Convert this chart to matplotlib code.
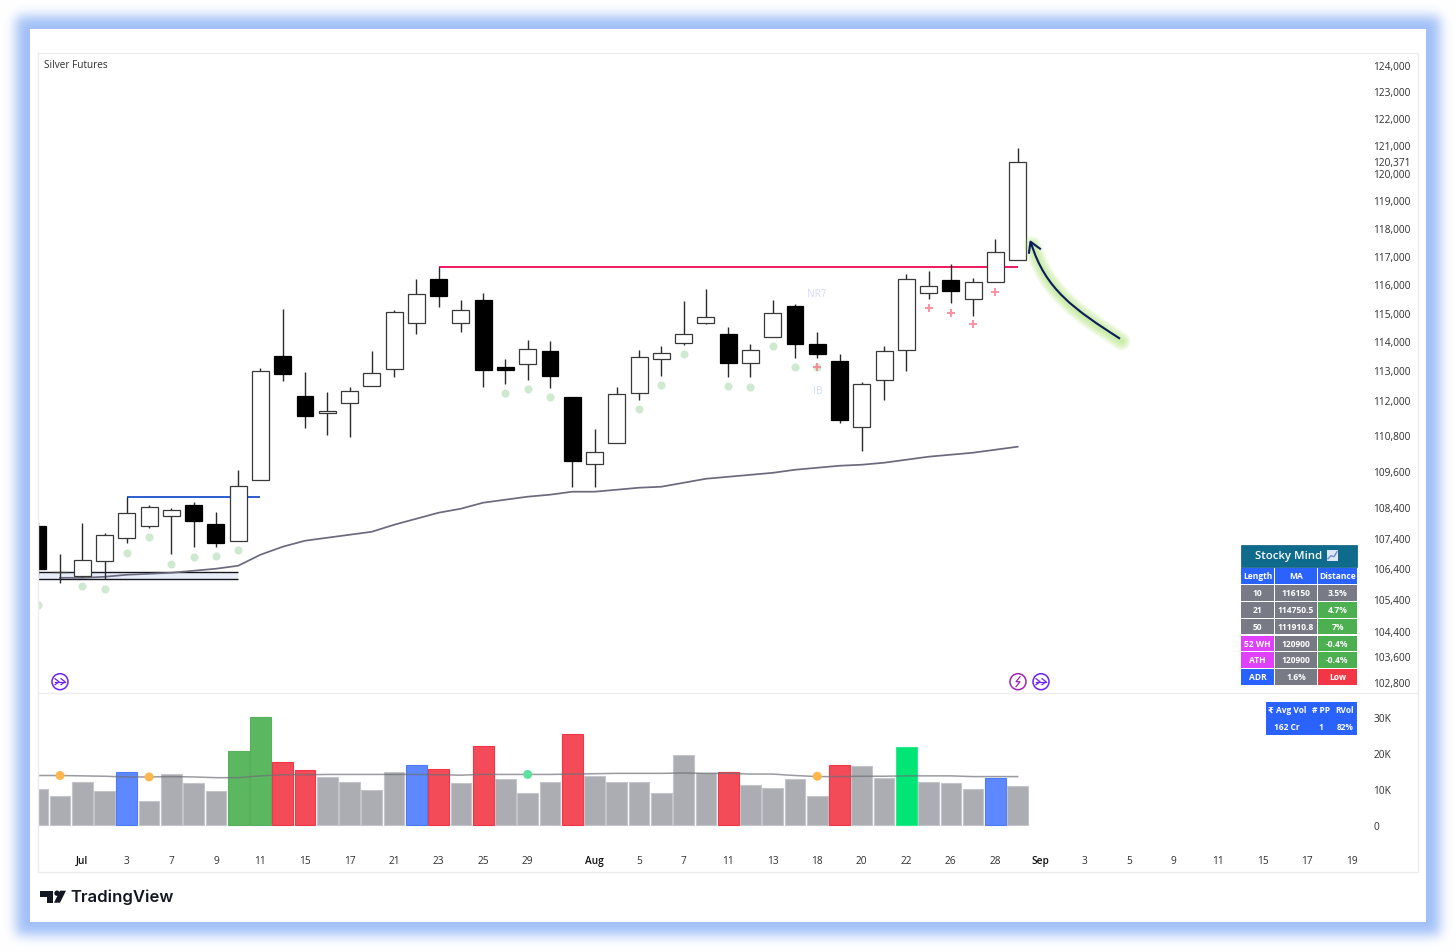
"""Silver Futures daily candles with volume pane, TradingView style."""
import matplotlib
import matplotlib.pyplot as plt
import numpy as np
from matplotlib.patches import Circle, PathPatch, Polygon, Rectangle
from matplotlib.path import Path

matplotlib.use("Agg")

W, H = 1456, 953
SHIFT = 0.7  # sub-pixel nudge down so edges land on the same rows as the screenshot
plt.rcParams["font.family"] = ["Open Sans", "DejaVu Sans"]

# index 0 is the bar before 1 Jul, -1 is cut by the left edge of the pane
BAR_INDEX = list(range(-1, 44))

OPENS = [107785, 106289, 106159, 106647, 107394, 107785, 108115, 108478, 107851, 107296,
         109303, 113502, 112132, 111554, 111894, 112472, 113053, 114620, 116186, 114650,
         115451, 113122, 113226, 113675, 112098, 109837, 110540, 112234, 113399, 113952,
         114620, 114264, 113260, 114160, 115241, 113918, 113329, 111078, 112676, 113710,
         115696, 116151, 115486, 116081, 116863]
CLOSES = [106386, 106295, 106679, 107491, 108214, 108412, 108313, 107950, 107232, 109105,
          112984, 112880, 111452, 111622, 112302, 112914, 115031, 115661, 115591, 115101,
          113018, 113018, 113745, 112812, 109938, 110239, 112200, 113468, 113606, 114264,
          114856, 113260, 113710, 114996, 113918, 113572, 111316, 112540, 113675, 116186,
          115941, 115766, 116081, 117148, 120371]
HIGHS = [107900, 106874, 107884, 107556, 108742, 108478, 108379, 108577, 108247, 109636,
         113087, 115136, 112949, 112268, 112438, 113675, 115101, 116186, 116606, 115451,
         115696, 113399, 114056, 114021, 112098, 111010, 112438, 113710, 113848, 115416,
         115836, 114506, 113918, 115451, 115311, 114333, 113572, 112608, 113848, 116365,
         116471, 116721, 116221, 117611, 120911]
LOWS = [106200, 105932, 106127, 106062, 107232, 107719, 106874, 107101, 107101, 107296,
        109303, 112642, 111044, 110809, 110741, 112472, 112778, 114264, 115206, 114333,
        112438, 112540, 112676, 112404, 109072, 109072, 110540, 111996, 112812, 113883,
        114586, 112778, 112778, 114160, 113433, 113433, 111214, 110273, 111996, 112984,
        115486, 115346, 114891, 116081, 116863]

MA_INDEX = list(range(0, 44))
MA_VALUES = [106094, 106094, 106127, 106192, 106224, 106257, 106322, 106387, 106484, 106841,
             107101, 107296, 107394, 107491, 107589, 107818, 108016, 108214, 108346, 108544,
             108643, 108742, 108808, 108907, 108907, 108973, 109039, 109072, 109204, 109336,
             109402, 109468, 109534, 109636, 109703, 109770, 109804, 109871, 109971, 110072,
             110139, 110206, 110306, 110407]

DOT_INDEX = [-1, 1, 2, 3, 4, 5, 6, 7, 8, 20, 21, 22, 26, 27, 28, 30, 31, 32, 33, 34]
DOT_VALUES = [105230, 105834, 105737, 106906, 107426, 106549, 106776, 106809, 107004, 112234,
              112370, 112098, 111690, 112506, 113572, 112472, 112438, 113848, 113122, 113122]
PLUS_INDEX = [34, 39, 40, 41, 42]
PLUS_VALUES = [113122, 115171, 114996, 114586, 115731]

RED_LEVEL = 116610
BLUE_LEVEL = 108742
BAND_TOP = 106289
BAND_BOTTOM = 106062

PRICE_TICKS = [124000, 123000, 122000, 121000, 120000, 119000, 118000, 117000, 116000, 115000,
               114000, 113000, 112000, 110800, 109600, 108400, 107400, 106400, 105400, 104400,
               103600, 102800]
LAST_PRICE = 120371

VOLUMES = [10.0, 8.0, 12.1, 9.6, 14.7, 6.6, 14.1, 11.6, 9.4, 20.7, 30.1, 17.5, 15.2, 13.5, 11.9,
           9.9, 14.7, 16.6, 15.5, 11.6, 21.9, 12.7, 8.9, 12.1, 25.2, 13.8, 11.9, 12.1, 8.9, 19.6,
           14.6, 14.7, 11.1, 10.2, 12.9, 8.1, 16.8, 16.5, 13.2, 21.7, 12.0, 11.6, 10.0, 13.2, 10.9]
VOLUME_KIND = list("gggg" "b" "ggggGG" "rr" "gggg" "b" "r" "g" "r" "ggg" "r" "ggggg"
                   "g" "r" "gggg" "r" "gg" "n" "ggg" "b" "g")
VOLUME_MA = [13.8, 13.8, 13.7, 13.6, 13.4, 13.4, 13.5, 13.4, 13.2, 13.2, 13.7, 14.0, 14.0, 14.1, 14.1,
             14.1, 14.1, 14.1, 14.0, 13.9, 14.1, 14.1, 14.1, 14.1, 14.2, 14.3, 14.4, 14.4, 14.4, 14.5,
             14.4, 14.4, 14.2, 14.2, 13.8, 13.5, 13.5, 13.6, 13.6, 13.7, 13.7, 13.7, 13.5, 13.5, 13.5]
VOL_DOT_INDEX = [0, 4, 21, 34]
VOL_DOT_VALUES = [13.8, 13.4, 14.1, 13.6]
VOL_DOT_COLORS = ["#ffb74d", "#ffb74d", "#5fe0a0", "#ffb74d"]
VOL_TICKS = [0, 10, 20, 30]
VOL_LABELS = ["0", "10K", "20K", "30K"]

DATE_INDEX = [1, 3, 5, 7, 9, 11, 13, 15, 17, 19, 21, 24, 26, 28, 30, 32, 34, 36, 38, 40, 42, 44,
              46, 48, 50, 52, 54, 56, 58]
DATE_LABELS = ["Jul", "3", "7", "9", "11", "15", "17", "21", "23", "25", "29", "Aug", "5", "7", "11",
               "13", "18", "20", "22", "26", "28", "Sep", "3", "5", "9", "11", "15", "17", "19"]

TABLE_ROWS = [
    ["Length", "MA", "Distance"],
    ["10", "116150", "3.5%"],
    ["21", "114750.5", "4.7%"],
    ["50", "111910.8", "7%"],
    ["52 WH", "120900", "-0.4%"],
    ["ATH", "120900", "-0.4%"],
    ["ADR", "1.6%", "Low"],
]
GREY, GREEN, MAGENTA, BLUE, RED = "#787b86", "#4caf50", "#e040fb", "#2962ff", "#f23645"
TABLE_COLORS = [
    [BLUE, BLUE, BLUE],
    [GREY, GREY, GREY],
    [GREY, GREY, GREEN],
    [GREY, GREY, GREEN],
    [MAGENTA, GREY, GREEN],
    [MAGENTA, GREY, GREEN],
    [BLUE, GREY, RED],
]
VOL_TABLE = [["₹ Avg Vol", "# PP", "RVol"], ["162 Cr", "1", "82%"]]

BAR_COLORS = {"g": "#acadb2", "b": "#5d88ff", "r": "#f44b58", "G": "#5cb860", "n": "#00e676"}
BAR_EDGES = {"g": "#c4c5c9", "b": "#4d7cfa", "r": "#f23645", "G": "#58b05c", "n": "#2bea8c"}


def axes_px(fig, left, top, right, bottom):
    return fig.add_axes([left / W, 1 - bottom / H, (right - left) / W, (bottom - top) / H])


def edge_profile(n, start, stop, sigma):
    raw = np.zeros(n)
    raw[start:stop] = 1.0
    xs = np.arange(-3 * sigma, 3 * sigma + 1)
    kernel = np.exp(-0.5 * (xs / sigma) ** 2)
    return np.convolve(raw, kernel / kernel.sum(), mode="same")


def draw_background(fig):
    ax = fig.add_axes([0, 0, 1, 1], zorder=0)
    glow = np.outer(edge_profile(H, 17, 936, 6.0), edge_profile(W, 16, 1440, 6.0))
    blue = np.array([0.63, 0.75, 0.97])
    img = 1 - glow[..., None] * (1 - blue)
    ax.imshow(img, extent=(0, W, H, 0), aspect="auto", interpolation="bilinear")
    ax.add_patch(Rectangle((30, 30.4), 1396, 893, facecolor="white", edgecolor="none"))
    ax.set_xlim(0, W)
    ax.set_ylim(H, 0)
    ax.axis("off")


def draw_candles(ax):
    for i, o, h, l, c in zip(BAR_INDEX, OPENS, HIGHS, LOWS, CLOSES):
        up = c >= o
        ax.vlines(i, l, h, color="#2a2a2a", lw=1.0, zorder=3)
        ax.bar(i, abs(c - o), bottom=min(o, c), width=0.76, zorder=4, linewidth=0.9,
               facecolor="white" if up else "black", edgecolor="#383838" if up else "black")


def draw_price_pane(ax):
    ax.patch.set_visible(False)
    ax.set_yscale("log")
    ax.fill_between([-1.2, 8], BAND_BOTTOM, BAND_TOP, color="#e6ecf8", lw=0, zorder=1)
    ax.hlines([BAND_TOP, BAND_BOTTOM], -1.2, 8, color="#15171f", lw=1.0, zorder=2)
    ax.hlines(BLUE_LEVEL, 3, 9, color="#1c4fc9", lw=1.3, zorder=2)
    ax.hlines(RED_LEVEL, 17, 43, color="#f0175c", lw=1.4, zorder=2)
    ax.plot(MA_INDEX, MA_VALUES, color="#6a6a7c", lw=1.25, zorder=2.5)
    draw_candles(ax)
    ax.scatter(DOT_INDEX, DOT_VALUES, s=34, color="#cfe9d0", linewidths=0, zorder=5)
    ax.scatter(PLUS_INDEX, PLUS_VALUES, s=32, marker="+", color="#f77f92", linewidths=1.4,
               alpha=0.85, zorder=6)
    ax.text(34, 115661, "NR7", color="#cfdcfb", fontsize=7.2, ha="center", va="center", zorder=6)
    ax.text(34, 112302, "IB", color="#cfdcfb", fontsize=7.2, ha="center", va="center", zorder=6)

    ax.set_xlim(-0.988, 58.46)
    ax.set_ylim(102453, 124453)
    ax.yaxis.tick_right()
    ax.set_yticks(PRICE_TICKS, [f"{t:,}" for t in PRICE_TICKS])
    ax.minorticks_off()
    ax.set_xticks([])
    ax.tick_params(axis="y", length=0, pad=8, labelsize=7.3, labelcolor="#2e2e2e")
    for side in ax.spines:
        ax.spines[side].set_visible(False)
    ax.annotate(f"{LAST_PRICE:,}", xy=(1, LAST_PRICE), xycoords=("axes fraction", "data"),
                xytext=(8, 0), textcoords="offset points", ha="left", va="center", fontsize=7.3,
                color="#2e2e2e", annotation_clip=False, zorder=8,
                bbox=dict(facecolor="white", edgecolor="none", pad=1.5))


def draw_volume_pane(ax):
    ax.patch.set_visible(False)
    for i, v, kind in zip(BAR_INDEX, VOLUMES, VOLUME_KIND):
        ax.bar(i, v, width=0.93, facecolor=BAR_COLORS[kind], edgecolor=BAR_EDGES[kind], linewidth=0.8,
               zorder=2)
    ax.plot(BAR_INDEX, VOLUME_MA, color="#6f7078", lw=1.1, alpha=0.7, zorder=3)
    ax.scatter(VOL_DOT_INDEX, VOL_DOT_VALUES, s=42, color=VOL_DOT_COLORS, linewidths=0, zorder=4)
    ax.set_xlim(-0.988, 58.46)
    ax.set_ylim(-4.86, 36.8)
    ax.yaxis.tick_right()
    ax.set_yticks(VOL_TICKS, VOL_LABELS)
    ax.set_xticks(DATE_INDEX, DATE_LABELS)
    ax.tick_params(axis="both", length=0, labelsize=7.3, labelcolor="#2e2e2e")
    ax.tick_params(axis="y", pad=8)
    ax.tick_params(axis="x", pad=9)
    for label in ax.get_xticklabels():
        if label.get_text() in ("Jul", "Aug", "Sep"):
            label.set_fontweight("semibold")
            label.set_color("#111111")
    for side in ax.spines:
        ax.spines[side].set_visible(False)


def draw_table(ax):
    ax.add_patch(Rectangle((1241, 545), 116, 22, facecolor="#0e6b8c", edgecolor="#0a5a78", lw=0.5))
    ax.text(1289, 555.5, "Stocky Mind", color="white", fontsize=8.2, ha="center", va="center",
            fontweight="semibold")
    # chart emoji in the title cell
    ax.add_patch(Rectangle((1327, 550), 11, 11, facecolor="#dfe6f5", edgecolor="none"))
    ax.plot([1328, 1331, 1334, 1337], [559, 556, 557, 552], color="#6c8fd6", lw=1)

    col_x = [(1241, 1274), (1275, 1317), (1318, 1357)]
    row_y = [(568, 584), (585, 601), (602, 618), (619, 634), (636, 651), (652, 668), (669, 685)]
    for row, colors, (y0, y1) in zip(TABLE_ROWS, TABLE_COLORS, row_y):
        for cell, color, (x0, x1) in zip(row, colors, col_x):
            ax.add_patch(Rectangle((x0, y0), x1 - x0, y1 - y0, facecolor=color, edgecolor="none"))
            ax.text((x0 + x1) / 2, (y0 + y1) / 2, cell, color="white", fontsize=6.1, ha="center",
                    va="center", fontweight="bold")

    ax.add_patch(Rectangle((1266, 702), 91, 33, facecolor="#2962ff", edgecolor="none"))
    for row, y in zip(VOL_TABLE, (710, 727)):
        for cell, x in zip(row, (1287, 1321, 1345)):
            ax.text(x, y, cell, color="white", fontsize=6.0, ha="center", va="center",
                    fontweight="bold")


def draw_arrow(ax):
    verts = [(1120, 339), (1075, 310), (1045, 290), (1031, 243)]
    codes = [Path.MOVETO, Path.CURVE4, Path.CURVE4, Path.CURVE4]
    curve = Path(verts, codes)
    head = [(1040, 249), (1030.5, 242), (1029, 253)]
    # soft green shadow falls to the lower right of the stroke
    glow = Path([(x + 1.5, y + 2.5) for x, y in verts], codes)
    for lw in (13, 11, 9, 7, 5, 3):
        ax.add_patch(PathPatch(glow, fill=False, edgecolor="#a6e36a", lw=lw, alpha=0.13,
                               capstyle="round"))
    ax.add_patch(PathPatch(curve, fill=False, edgecolor="#0b1a5e", lw=1.5))
    ax.plot(*zip(*head), color="#0b1a5e", lw=1.5)


def draw_icons(ax):
    violet, purple = "#6a22f5", "#9c27b0"
    for cx in (60, 1041):
        ax.add_patch(Circle((cx, 682), 8, fill=False, edgecolor=violet, lw=1.1))
        ax.plot([cx - 5, cx - 1, cx - 5], [679, 682, 685], color=violet, lw=0.9)
        ax.plot([cx - 5, cx + 5], [682, 682], color=violet, lw=0.9)
        ax.plot([cx + 1, cx + 5, cx + 1], [679, 682, 685], color=violet, lw=0.9)
    ax.add_patch(Circle((1018, 682), 8, fill=False, edgecolor=purple, lw=1.1))
    ax.plot([1020, 1016, 1020, 1016], [677, 682, 682, 687], color=purple, lw=0.9)


def draw_logo(ax):
    ax.add_patch(Polygon([(40, 891), (53, 891), (53, 903), (47, 903), (47, 897), (40, 897)],
                         facecolor="#131722", edgecolor="none"))
    ax.add_patch(Circle((57, 893.5), 2.7, facecolor="#131722", edgecolor="none"))
    ax.add_patch(Polygon([(60, 891), (66, 891), (60, 903), (54, 903)], facecolor="#131722",
                         edgecolor="none"))
    ax.text(70.5, 897, "TradingView", family=["Inter", "DejaVu Sans"], fontsize=12.0,
            fontweight="semibold", color="#131722", ha="left", va="center")


def main():
    fig = plt.figure(figsize=(W / 100, H / 100), dpi=100, facecolor="white")
    draw_background(fig)

    price_ax = axes_px(fig, 38, 53 + SHIFT, 1362, 693 + SHIFT)
    vol_ax = axes_px(fig, 38, 693 + SHIFT, 1362, 843 + SHIFT)
    price_ax.set_zorder(2)
    vol_ax.set_zorder(2)
    draw_price_pane(price_ax)
    draw_volume_pane(vol_ax)

    over = fig.add_axes([0, 0, 1, 1], zorder=5)
    over.patch.set_visible(False)
    over.set_xlim(0, W)
    over.set_ylim(H - SHIFT, -SHIFT)
    over.axis("off")
    over.plot([38, 1418, 1418, 38, 38], [53, 53, 872, 872, 53], color="#ececec", lw=1)
    over.plot([38, 1418], [693, 693], color="#ececec", lw=1)
    over.text(44.5, 65, "Silver Futures", fontsize=7.2, color="#2e2e2e", ha="left", va="center")
    draw_table(over)
    draw_arrow(over)
    draw_icons(over)
    draw_logo(over)

    fig.savefig("out.png", dpi=100)
    plt.close(fig)


if __name__ == "__main__":
    main()
